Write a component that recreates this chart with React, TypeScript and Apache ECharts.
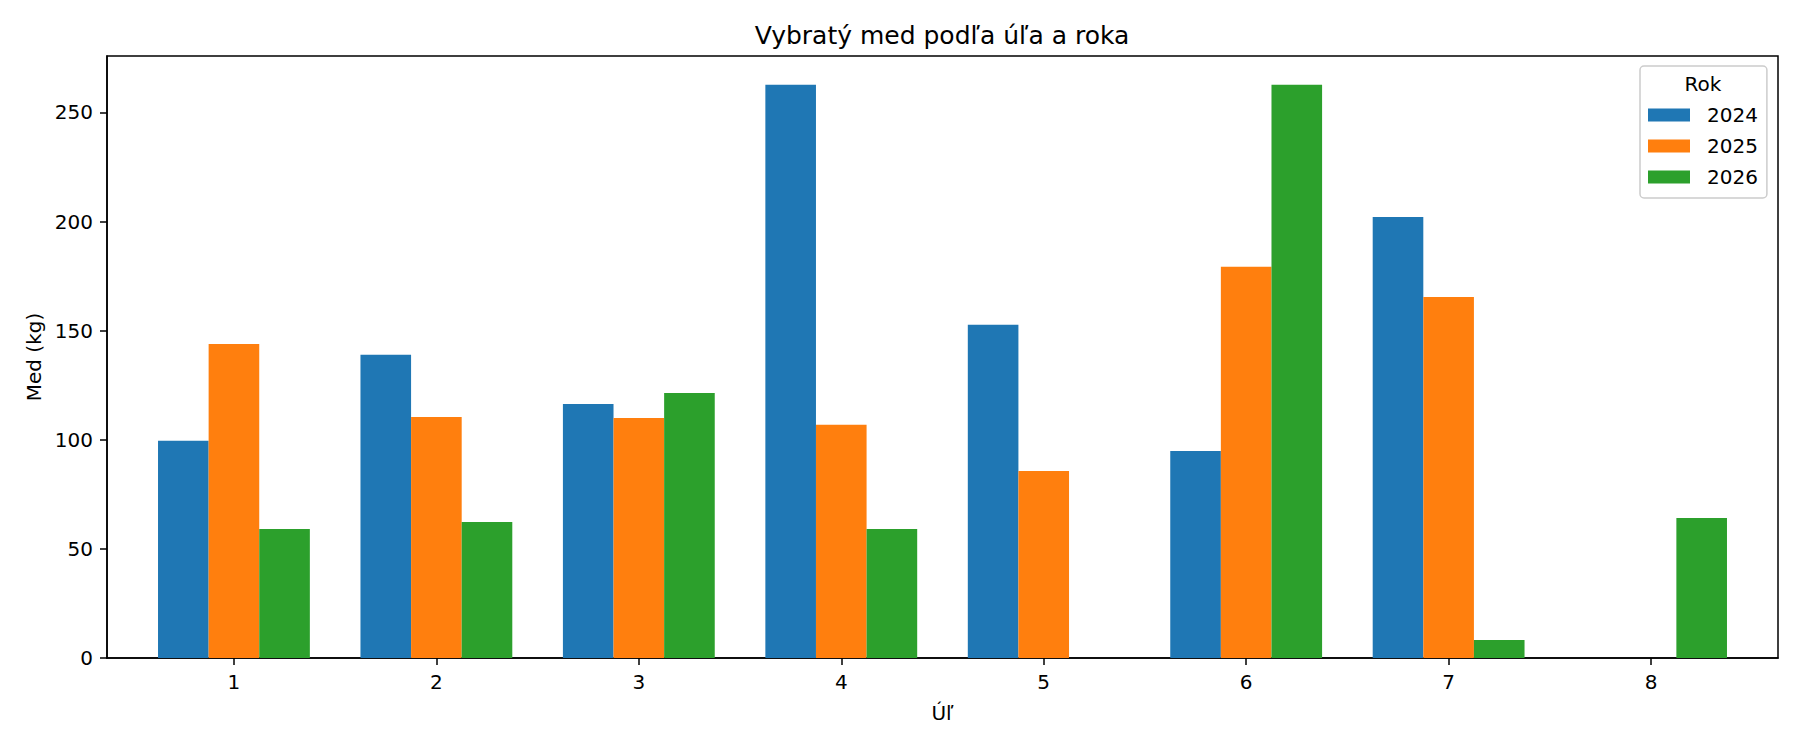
import React, { useEffect, useRef } from "react";
import * as echarts from "echarts";

const hives = [1, 2, 3, 4, 5, 6, 7, 8];
const years = ["2024", "2025", "2026"];
const honey2024 = [99.6, 138.9, 116.4, 262.7, 152.7, 94.9, 202.1, 0];
const honey2025 = [143.9, 110.4, 110.0, 106.9, 85.7, 179.3, 165.4, 0];
const honey2026 = [59.1, 62.3, 121.4, 59.1, 0, 262.7, 8.2, 64.2];
const yTicks = [0, 50, 100, 150, 200, 250];
const colors = ["#1f77b4", "#ff7f0e", "#2ca02c"];

const FONT = "DejaVu Sans";

export default function App() {
  const ref = useRef<HTMLDivElement>(null);
  useEffect(() => {
    if (!ref.current) return;
    const chart = echarts.init(ref.current, undefined, { renderer: "svg" });
    const all = [honey2024, honey2025, honey2026];
    const yMax = Math.max(...all.flat()) * 1.05;
    const series = all.map((vals, i) => ({
      name: years[i],
      type: "bar",
      data: hives.map((h, j) => [h, vals[j]]),
      barWidth: "25%",
      barGap: "0%",
      itemStyle: { color: colors[i] },
    }));
    chart.setOption({
      animation: false,
      textStyle: { fontFamily: FONT },
      grid: {
        left: 107,
        right: 22,
        top: 56,
        bottom: 92,
        show: true,
        borderColor: "#000",
        borderWidth: 1.5,
        backgroundColor: "transparent",
      },
      graphic: [
        {
          type: "text",
          x: 942,
          y: 35,
          style: {
            text: "Vybratý med podľa úľa a roka",
            font: `25px '${FONT}'`,
            fill: "#000",
            align: "center",
            verticalAlign: "middle",
          },
        },
        {
          type: "text",
          x: 1703,
          y: 84,
          z: 100,
          style: {
            text: "Rok",
            font: `20px '${FONT}'`,
            fill: "#000",
            align: "center",
            verticalAlign: "middle",
          },
        },
      ],
      legend: {
        orient: "vertical",
        left: 1640,
        top: 66,
        padding: [39, 9, 11, 8],
        itemGap: 11,
        itemWidth: 42,
        itemHeight: 13,
        icon: "rect",
        borderColor: "#cccccc",
        borderWidth: 1.5,
        borderRadius: 4,
        backgroundColor: "rgba(255,255,255,0.8)",
        textStyle: {
          fontFamily: FONT,
          fontSize: 20,
          lineHeight: 20,
          color: "#000",
          padding: [0, 0, 0, 12],
        },
        data: years,
      },
      xAxis: {
        type: "value",
        min: 0.373,
        max: 8.627,
        name: "Úľ",
        nameLocation: "middle",
        nameGap: 45,
        nameTextStyle: { fontFamily: FONT, fontSize: 20, color: "#000" },
        axisLine: { show: true, lineStyle: { color: "#000", width: 1.5 } },
        axisTick: {
          show: true,
          length: 7,
          lineStyle: { color: "#000", width: 1.5 },
          customValues: hives,
        },
        axisLabel: {
          fontFamily: FONT,
          fontSize: 20,
          color: "#000",
          margin: 14,
          customValues: hives,
        },
        splitLine: { show: false },
      },
      yAxis: {
        type: "value",
        min: 0,
        max: yMax,
        name: "Med (kg)",
        nameLocation: "middle",
        nameRotate: 90,
        nameGap: 62,
        nameTextStyle: { fontFamily: FONT, fontSize: 20, color: "#000" },
        axisLine: { show: true, lineStyle: { color: "#000", width: 1.5 } },
        axisTick: {
          show: true,
          length: 7,
          lineStyle: { color: "#000", width: 1.5 },
          customValues: yTicks,
        },
        axisLabel: {
          fontFamily: FONT,
          fontSize: 20,
          color: "#000",
          margin: 14,
          customValues: yTicks,
        },
        splitLine: { show: false },
      },
      series,
    });
    return () => chart.dispose();
  }, []);
  return (
    <div
      ref={ref}
      style={{ position: "absolute", left: 0, top: 0, width: 1800, height: 750 }}
    />
  );
}
